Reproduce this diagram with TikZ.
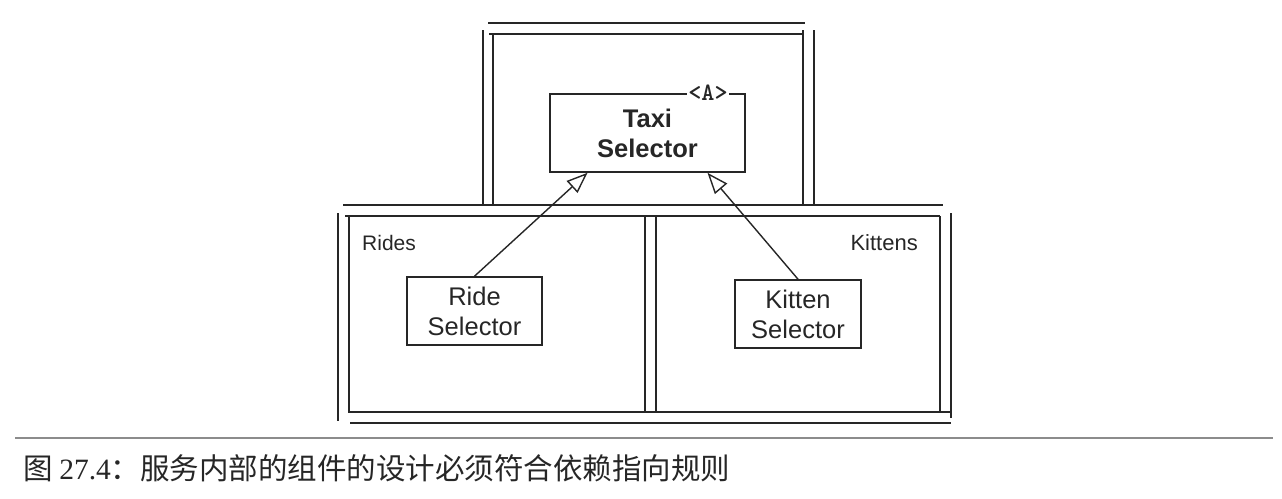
\documentclass[tikz,border=0pt]{standalone}
\usepackage{fontspec}
\setmainfont{Liberation Sans}
\newfontfamily\cjk{Noto Sans CJK SC}
\newfontfamily\capnum{Liberation Serif}
\usetikzlibrary{arrows.meta}
\begin{document}
\begin{tikzpicture}[x=1pt,y=-1pt,
    frame/.style={line width=2.2pt,black!85},
    comp/.style={draw=black!85,line width=1.6pt,align=center,inner sep=0pt,text=black!85,font=\fontsize{25.5}{30}\selectfont},
    pkg/.style={text=black!85,inner sep=0pt,font=\fontsize{21}{24}\selectfont},
    realizes/.style={black!85,line width=1.4pt,-{Triangle[open,length=21pt,width=16pt,fill=white]}}]
\useasboundingbox (0,0) rectangle (1282,498);
\draw[frame] (488,23) -- (805,23);
\draw[frame] (489,34) -- (803,34);
\draw[frame] (483,30) -- (483,205);
\draw[frame] (493,34) -- (493,205);
\draw[frame] (803,30) -- (803,205);
\draw[frame] (814,30) -- (814,205);
\draw[frame] (343,205) -- (943,205);
\draw[frame] (345,216) -- (940,216);
\draw[frame] (338,213) -- (338,421);
\draw[frame] (349,216) -- (349,412) -- (950,412);
\draw[frame] (645,216) -- (645,412);
\draw[frame] (656,216) -- (656,412);
\draw[frame] (940,216) -- (940,412);
\draw[frame] (951,213) -- (951,418);
\draw[frame] (350,423) -- (951,423);
\node[comp,minimum width=195pt,minimum height=78pt,font=\bfseries\fontsize{25.5}{30}\selectfont] (taxi) at (647.5,133) {Taxi\\Selector};
\node[fill=white,inner sep=1pt,text=black!85,font=\ttfamily\bfseries\fontsize{25}{25}\selectfont] (abs) at (708,93) {<A>};
\node[comp,minimum width=135pt,minimum height=68pt] (ride) at (474.5,311) {Ride\\Selector};
\node[comp,minimum width=126pt,minimum height=68pt] (kitten) at (798,314) {Kitten\\Selector};
\node[pkg,anchor=west] (rides) at (362,243) {Rides};
\node[pkg,anchor=east,font=\fontsize{22}{24}\selectfont] (kittens) at (918,243) {Kittens};
\draw[realizes] (ride.north) -- ([xshift=-60pt]taxi.south);
\draw[realizes] (kitten.north) -- ([xshift=60pt]taxi.south);
\draw[black!45,line width=1.5pt] (15,438) -- (1273,438);
\node[anchor=west,inner sep=0pt,text=black!85,font=\cjk\fontsize{29.5}{29.5}\selectfont] (caption) at (23,468) {图 {\capnum 27.4}：服务内部的组件的设计必须符合依赖指向规则};
\end{tikzpicture}
\end{document}
